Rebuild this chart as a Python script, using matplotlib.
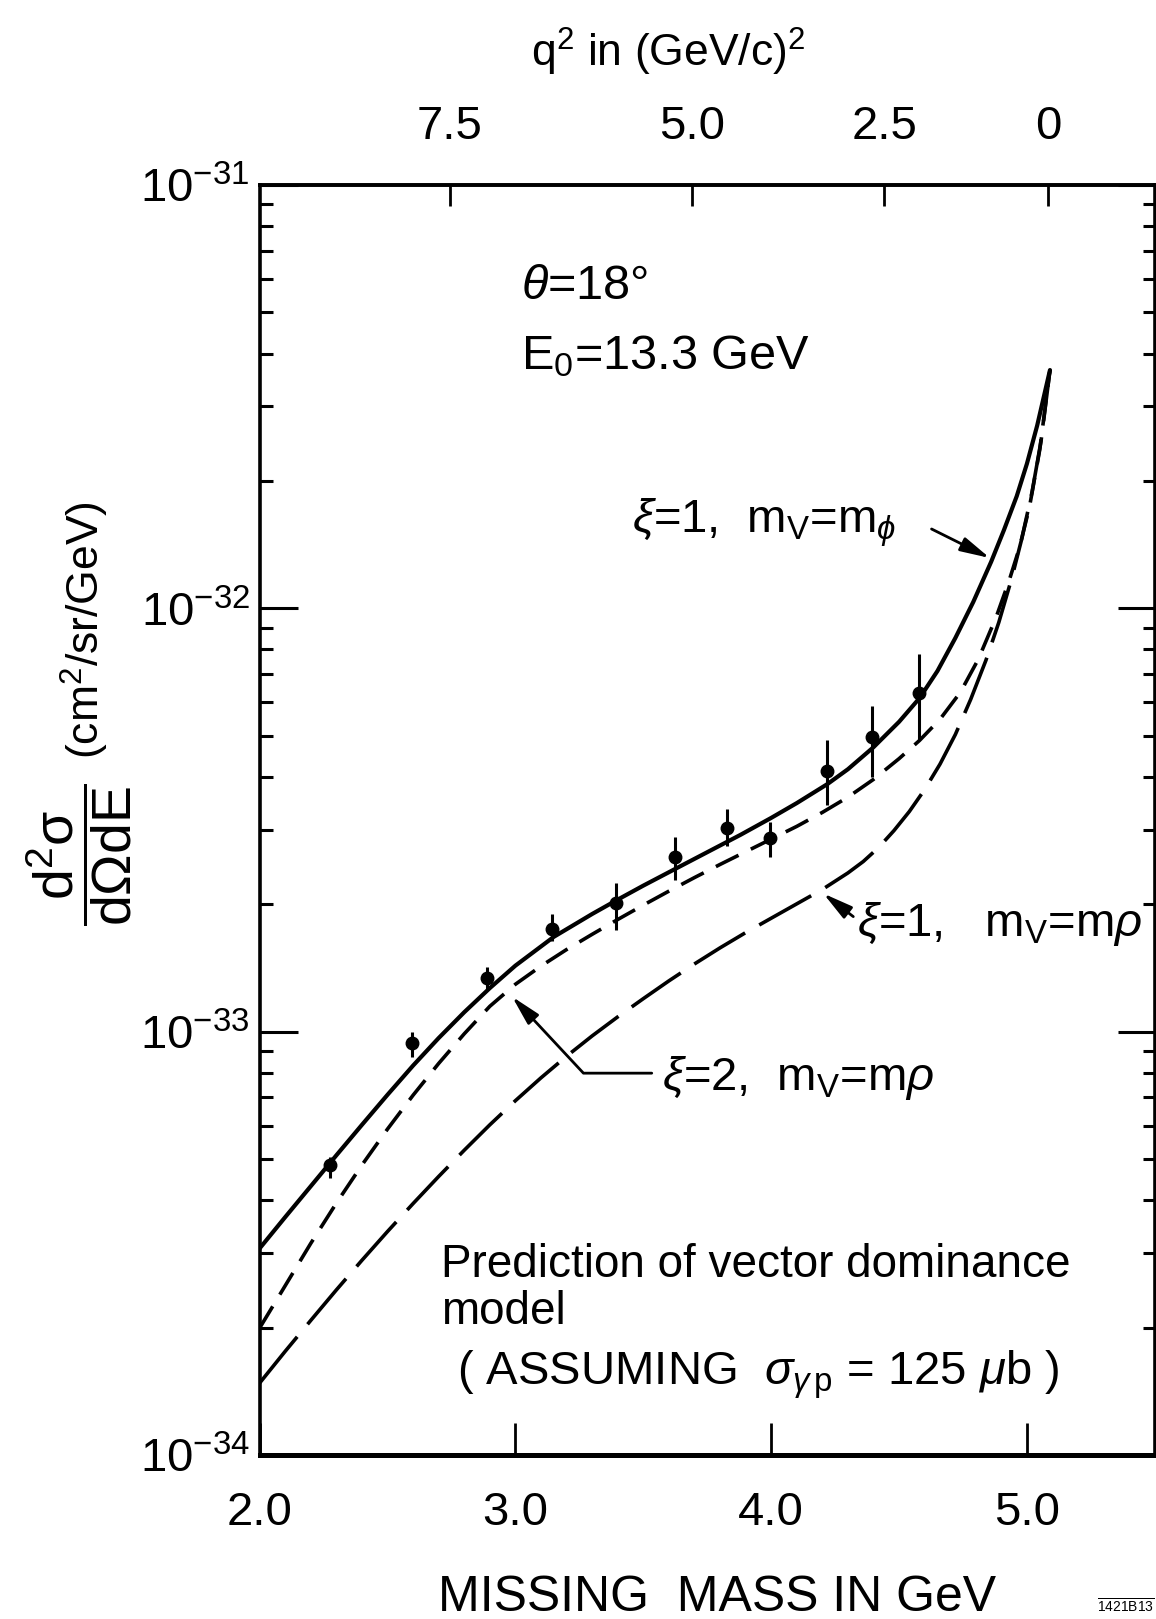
import numpy as np
import matplotlib
matplotlib.use("Agg")
import matplotlib.pyplot as plt
from matplotlib.patches import FancyArrowPatch
from matplotlib.ticker import LogLocator, NullFormatter

plt.rcParams['font.family'] = ['Liberation Sans', 'DejaVu Sans']
plt.rcParams['mathtext.fontset'] = 'custom'
plt.rcParams['mathtext.rm'] = 'Liberation Sans'
plt.rcParams['mathtext.it'] = 'Liberation Sans:italic'
plt.rcParams['mathtext.bf'] = 'Liberation Sans:bold'
plt.rcParams['mathtext.default'] = 'regular'

# beam energy, angle and target mass (for the q^2 scale on top)
E0 = 13.3
theta_deg = 18.0
m_p = 0.938

# measured points
mass_pts = [2.275, 2.596, 2.888, 3.144, 3.393, 3.624, 3.828, 3.995, 4.217, 4.395, 4.579]
xsec_pts = [4.85e-34, 9.38e-34, 1.34e-33, 1.75e-33, 2.01e-33, 2.59e-33, 3.03e-33, 2.87e-33, 4.13e-33, 4.98e-33, 6.30e-33]
xsec_hi = [5.06e-34, 1.00e-33, 1.42e-33, 1.90e-33, 2.24e-33, 2.88e-33, 3.35e-33, 3.13e-33, 4.89e-33, 5.88e-33, 7.80e-33]
xsec_lo = [4.50e-34, 8.73e-34, 1.26e-33, 1.64e-33, 1.74e-33, 2.28e-33, 2.74e-33, 2.58e-33, 3.43e-33, 4.00e-33, 4.89e-33]

# VDM predictions, given as log10 of the cross section
mass_phi = [2.00, 2.10, 2.20, 2.30, 2.40, 2.50, 2.60, 2.70, 2.80, 2.90, 3.00, 3.15, 3.30, 3.40, 3.50,
            3.62, 3.75, 3.88, 4.00, 4.10, 4.22, 4.30, 4.40, 4.50, 4.58, 4.65, 4.72, 4.79, 4.86,
            4.91, 4.96, 5.00, 5.04, 5.09]
log_phi = [-33.512, -33.438, -33.365, -33.292, -33.220, -33.149, -33.080, -33.015, -32.954, -32.897,
           -32.844, -32.776, -32.722, -32.688, -32.655, -32.617, -32.576, -32.535, -32.495, -32.460,
           -32.415, -32.380, -32.328, -32.268, -32.212, -32.148, -32.070, -31.985, -31.890,
           -31.815, -31.735, -31.658, -31.568, -31.437]

mass_rho2 = [2.00, 2.10, 2.20, 2.30, 2.40, 2.50, 2.60, 2.70, 2.80, 2.90, 3.00, 3.10, 3.20, 3.30, 3.40,
             3.50, 3.60, 3.70, 3.80, 3.90, 4.00, 4.10, 4.20, 4.30, 4.40, 4.50, 4.58, 4.66, 4.74, 4.81,
             4.88, 4.93, 4.97, 5.01, 5.05, 5.09]
log_rho2 = [-33.700, -33.600, -33.500, -33.405, -33.315, -33.230, -33.150, -33.075, -33.005, -32.940,
            -32.888, -32.845, -32.806, -32.770, -32.735, -32.701, -32.668, -32.636, -32.605, -32.575,
            -32.545, -32.515, -32.482, -32.446, -32.404, -32.355, -32.312, -32.262, -32.198, -32.120,
            -32.020, -31.935, -31.858, -31.760, -31.625, -31.437]

mass_rho1 = [2.00, 2.10, 2.20, 2.30, 2.40, 2.50, 2.60, 2.70, 2.80, 2.90, 3.00, 3.10, 3.20, 3.30, 3.40,
             3.50, 3.60, 3.70, 3.80, 3.90, 4.00, 4.10, 4.20, 4.30, 4.36, 4.42, 4.48, 4.54, 4.60, 4.66,
             4.72, 4.78, 4.84, 4.89, 4.94, 4.98, 5.02, 5.055, 5.09]
log_rho1 = [-33.830, -33.755, -33.682, -33.610, -33.540, -33.472, -33.406, -33.342, -33.280, -33.220,
            -33.163, -33.109, -33.058, -33.010, -32.965, -32.922, -32.880, -32.840, -32.802, -32.766,
            -32.732, -32.698, -32.664, -32.625, -32.598, -32.565, -32.525, -32.480, -32.428, -32.368,
            -32.298, -32.215, -32.122, -32.033, -31.930, -31.835, -31.725, -31.605, -31.437]

q2_ticks = [7.5, 5.0, 2.5, 0.0]
q2_labels = ['7.5', '5.0', '2.5', '0']
mass_ticks = [2.0, 3.0, 4.0, 5.0]
mass_labels = ['2.0', '3.0', '4.0', '5.0']

s2 = np.sin(np.radians(theta_deg / 2)) ** 2
k = 4 * E0 * s2


def mass_to_q2(w):
    w = np.asarray(w, dtype=float)
    return k * (m_p ** 2 + 2 * m_p * E0 - w ** 2) / (2 * m_p + k)


def q2_to_mass(q2):
    q2 = np.asarray(q2, dtype=float)
    w2 = m_p ** 2 + 2 * m_p * E0 - q2 * (2 * m_p + k) / k
    return np.sqrt(np.clip(w2, 1e-6, None))


fig = plt.figure(figsize=(11.56, 16.19), dpi=100)
ax = fig.add_axes([0.2246, 0.1013, 0.7744, 0.7844])

ax.plot(mass_phi, 10.0 ** np.array(log_phi), color='black', lw=3.0, solid_capstyle='round')
ax.plot(mass_rho2, 10.0 ** np.array(log_rho2), color='black', lw=2.6, ls=(0, (7.0, 3.8)))
ax.plot(mass_rho1, 10.0 ** np.array(log_rho1), color='black', lw=2.6, ls=(0, (16.5, 4.5)))

yerr = [np.array(xsec_pts) - np.array(xsec_lo), np.array(xsec_hi) - np.array(xsec_pts)]
ax.errorbar(mass_pts, xsec_pts, yerr=yerr, fmt='o', color='black', ms=9,
            elinewidth=2.2, capsize=0)

ax.set_xlim(2.0, 5.5)
ax.set_yscale('log')
ax.set_ylim(1e-34, 1e-31)

ax.set_xticks(mass_ticks)
ax.set_xticklabels(mass_labels)
ax.yaxis.set_major_locator(LogLocator(base=10, numticks=10))
ax.yaxis.set_minor_locator(LogLocator(base=10, subs=np.arange(2, 10), numticks=20))
ax.yaxis.set_minor_formatter(NullFormatter())

ax.tick_params(axis='x', which='major', direction='in', top=False, bottom=True,
               length=23, width=2.0, labelsize=34, pad=26)
ax.tick_params(axis='y', which='major', direction='in', left=True, right=True,
               length=27, width=2.2, labelsize=34, pad=7)
ax.tick_params(axis='y', which='minor', direction='in', left=True, right=True,
               length=9, width=2.2)

for side in ['left', 'right', 'top']:
    ax.spines[side].set_linewidth(2.6)
ax.spines['bottom'].set_linewidth(3.6)

sec = ax.secondary_xaxis('top', functions=(mass_to_q2, q2_to_mass))
sec.set_xticks(q2_ticks)
sec.set_xticklabels(q2_labels)
sec.tick_params(direction='in', length=15, width=2.0, labelsize=34, pad=26)
sec.spines['top'].set_linewidth(2.6)

# titles are drawn with fig.text below, so the empty axis labels are switched off
for lab in [ax.xaxis.label, ax.yaxis.label, sec.xaxis.label, ax.title, sec.title]:
    lab.set_visible(False)

# labels inside the frame
ax.text(3.022, 5.38e-32, r"$\mathit{\theta}$=18°", fontsize=35, ha='left', va='baseline')
ax.text(3.022, 3.67e-32, r"E$_0$=13.3 GeV", fontsize=35, ha='left', va='baseline')

head = '-|>,head_length=0.9,head_width=0.22'


def pointer(start, tip, conn='arc3'):
    ax.add_patch(FancyArrowPatch(start, tip, arrowstyle=head, connectionstyle=conn,
                                 color='black', lw=2.0, shrinkA=0, shrinkB=0,
                                 mutation_scale=20, transform=ax.transData))


ax.text(3.456, 1.51e-32, r"$\mathit{\xi}$=1,  m$_V$=m$_{\mathit{\phi}}$", fontsize=34, ha='left', va='baseline')
pointer((4.627, 1.54e-32), (4.855, 1.315e-32))

ax.text(4.334, 1.68e-33, r"$\mathit{\xi}$=1,   m$_V$=m$\mathit{\rho}$", fontsize=34, ha='left', va='baseline')
pointer((4.321, 1.87e-33), (4.204, 2.12e-33))

ax.text(3.572, 7.28e-34, r"$\mathit{\xi}$=2,  m$_V$=m$\mathit{\rho}$", fontsize=34, ha='left', va='baseline')
pointer((3.533, 7.98e-34), (2.987, 1.21e-33), 'angle,angleA=0,angleB=133,rad=0')

ax.text(2.709, 2.64e-34, "Prediction of vector dominance", fontsize=33, ha='left', va='baseline')
ax.text(2.709, 2.04e-34, "model", fontsize=33, ha='left', va='baseline')
ax.text(2.771, 1.47e-34, r"( ASSUMING  $\mathit{\sigma}_{\mathit{\gamma}\,p}$ = 125 $\mathit{\mu}$b )",
        fontsize=34, ha='left', va='baseline')

# axis titles
fig.text(0.578, 0.968, r"q$^2$ in (GeV/c)$^2$", fontsize=32, ha='center', va='center')
fig.text(0.620, 0.013, "MISSING  MASS IN GeV", fontsize=36, ha='center', va='center')
fig.text(0.068, 0.472, r"$\dfrac{d^2\sigma}{d\Omega dE}$", fontsize=40,
         rotation=90, ha='center', va='center')
fig.text(0.0735, 0.611, r"(cm$^2$/sr/GeV)", fontsize=32,
         rotation=90, ha='center', va='center')
fig.text(0.999, 0.002, r"$\overline{\mathrm{1421B13}}$", fontsize=10, ha='right', va='bottom')

fig.savefig("out.png", dpi=100)
